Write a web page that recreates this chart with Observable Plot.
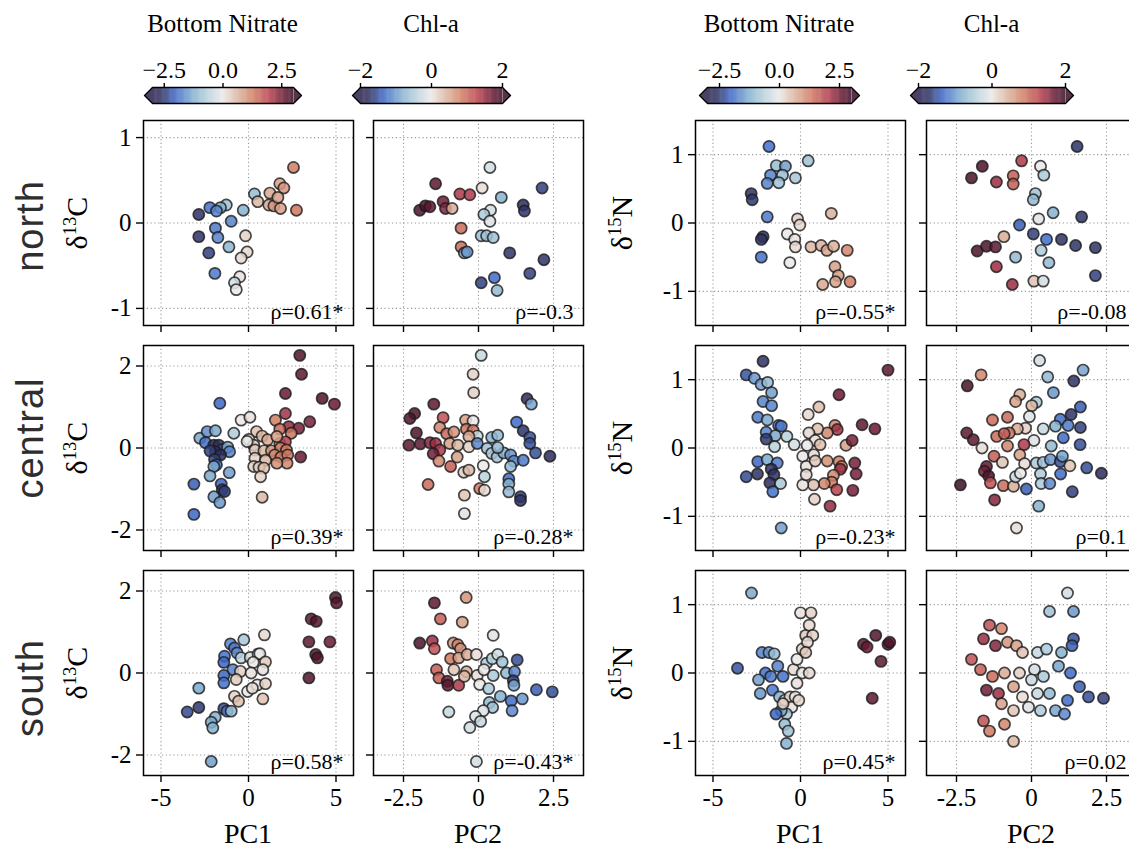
<!DOCTYPE html>
<html><head><meta charset="utf-8">
<script src="https://cdn.jsdelivr.net/npm/d3@7"></script>
<script src="https://cdn.jsdelivr.net/npm/@observablehq/plot@0.6"></script>
<style>
body{margin:0;background:#fff;}
#fig{position:relative;width:1129px;height:848px;overflow:hidden;background:#fff;font-family:"Liberation Serif",serif;color:#000;}
.abs{position:absolute;}
.rot{position:absolute;transform:translate(-50%,-50%) rotate(-90deg);white-space:nowrap;line-height:1;}
.region{font-family:"Liberation Sans",sans-serif;font-size:38px;color:#2e2e2e;letter-spacing:1px;}
.ylab{font-family:"Liberation Serif",serif;font-size:30px;}
.ylab sup{font-size:0.62em;vertical-align:0.6em;line-height:0;}
.xlab{position:absolute;transform:translateX(-50%);font-family:"Liberation Serif",serif;font-size:28px;line-height:1;white-space:nowrap;}
.cbt{position:absolute;transform:translateX(-50%);font-family:"Liberation Serif",serif;font-size:25px;line-height:1;white-space:nowrap;}
</style></head><body><div id="fig"></div>
<script>
// ---------- data ----------
const regions = ["north", "central", "south"];
const rhoLabels = [
  ["ρ=0.61*", "ρ=-0.3", "ρ=-0.55*", "ρ=-0.08"],
  ["ρ=0.39*", "ρ=-0.28*", "ρ=-0.23*", "ρ=0.1"],
  ["ρ=0.58*", "ρ=-0.43*", "ρ=0.45*", "ρ=0.02"]
];
const pc1Ticks = [-5, 0, 5];
const pc2Ticks = [-2.5, 0, 2.5];
const d13CTicksNorth = [-1, 0, 1];
const d13CTicks = [-2, 0, 2];
const d15NTicks = [-1, 0, 1];
const nitrateTicks = [-2.5, 0, 2.5];
const chlTicks = [-2, 0, 2];

// [x, y, colour value]
const north_d13C_PC1 = [[2.57,0.65,1.3],[1.79,0.46,0.9],[2.02,0.41,1.0],[1.22,0.35,0.8],[0.34,0.34,-1.0],[0.53,0.25,0.6],[1.16,0.21,0.8],[1.45,0.20,1.0],[1.68,0.30,0.9],[1.83,0.17,0.9],[2.74,0.15,1.4],[-1.27,0.21,-0.9],[-1.6,0.18,-1.2],[-2.21,0.18,-1.9],[-1.83,0.14,-1.7],[-2.84,0.10,-2.6],[-0.3,0.15,-1.2],[-0.99,0.02,-1.7],[-1.89,-0.06,-1.8],[-2.84,-0.16,-2.6],[-1.75,-0.17,-1.7],[-0.17,-0.15,0.3],[-2.27,-0.35,-2.4],[-1.12,-0.28,-1.1],[-0.08,-0.34,0.2],[-0.42,-0.41,0.2],[-1.92,-0.59,-1.8],[-0.5,-0.63,0.1],[-0.8,-0.70,-0.3],[-0.70,-0.78,0.0]];
const north_d13C_PC2 = [[0.38,0.65,-0.2],[-1.43,0.46,1.8],[0.12,0.41,0.1],[-0.62,0.34,1.4],[-0.29,0.33,1.4],[0.76,0.30,-0.8],[2.12,0.41,-1.6],[-1.96,0.15,1.9],[-1.77,0.20,1.9],[-1.62,0.19,1.8],[-1.18,0.25,1.7],[-1.1,0.17,1.6],[-0.88,0.17,0.5],[1.49,0.21,-1.8],[1.53,0.14,-1.7],[0.4,0.15,-0.2],[0.18,0.10,-0.5],[0.38,0.02,-0.1],[-0.58,-0.06,1.0],[0.09,-0.15,-0.6],[0.27,-0.15,-0.6],[0.49,-0.17,-0.6],[-0.58,-0.28,1.0],[-0.47,-0.35,-0.8],[-0.38,-0.34,-1.0],[1.04,-0.35,-1.7],[2.18,-0.43,-1.7],[1.71,-0.59,-1.6],[0.53,-0.64,-1.3],[0.09,-0.70,-1.6],[0.62,-0.79,-0.7]];
const north_d15N_PC1 = [[-1.8,1.12,-1.9],[0.44,0.91,-0.9],[-1.38,0.84,-1.0],[-0.86,0.83,-1.4],[-1.71,0.70,-1.7],[-1.03,0.70,-1.0],[-0.29,0.66,-0.8],[-1.9,0.58,-1.7],[-1.24,0.59,-0.9],[-2.82,0.43,-2.6],[-2.76,0.34,-2.5],[1.76,0.14,0.7],[-1.9,0.09,-1.8],[-0.17,0.06,0.3],[-0.04,-0.03,0.2],[-0.75,-0.16,0.0],[-0.33,-0.24,0.1],[-2.14,-0.20,-2.5],[-2.24,-0.24,-2.6],[-0.29,-0.35,0.2],[0.60,-0.35,0.6],[1.18,-0.33,0.7],[1.51,-0.40,0.8],[1.89,-0.34,0.7],[2.67,-0.40,1.2],[-2.24,-0.50,-1.9],[-0.61,-0.58,0.0],[1.97,-0.64,0.9],[2.16,-0.77,0.9],[2.0,-0.86,0.9],[1.27,-0.90,0.8],[2.83,-0.86,1.3]];
const north_d15N_PC2 = [[1.52,1.12,-1.7],[-0.33,0.91,1.4],[-1.64,0.83,1.9],[0.3,0.83,0.0],[-2.0,0.66,1.9],[-1.17,0.60,1.5],[-0.61,0.69,1.1],[-0.61,0.57,1.1],[0.41,0.70,-0.5],[0.13,0.43,-0.6],[0.06,0.34,-0.7],[0.72,0.15,-0.8],[0.24,0.06,-0.1],[1.67,0.09,-1.7],[-0.4,-0.03,-1.4],[0.06,-0.16,-1.6],[0.5,-0.24,-1.3],[1.0,-0.24,-1.7],[1.47,-0.33,-1.7],[2.13,-0.36,-1.7],[-0.92,-0.20,0.5],[-1.81,-0.41,1.9],[-1.5,-0.34,1.9],[-1.2,-0.35,1.8],[0.32,-0.40,-0.5],[-0.53,-0.50,-0.7],[0.58,-0.58,-0.7],[-1.17,-0.64,1.5],[2.13,-0.77,-1.6],[-0.64,-0.90,1.5],[0.08,-0.85,0.3],[0.39,-0.85,-0.2]];

const central_d13C_PC1 = [[2.93,2.26,2.8],[3.03,1.80,2.7],[2.11,1.33,2.6],[4.21,1.21,2.8],[4.91,1.07,2.6],[-1.64,1.09,-2.0],[2.11,0.84,2.2],[-0.42,0.68,0],[0.08,0.75,0.1],[1.54,0.68,1.3],[3.5,0.64,2.5],[2.3,0.52,2.3],[2.87,0.48,2.5],[1.79,0.46,1.5],[2.44,0.36,1.4],[0.46,0.40,0.5],[0.78,0.29,0.6],[0.02,0.21,0.1],[1.09,0.20,0.8],[0.3,0.07,0.4],[1.79,0.11,1.2],[2.11,0.15,2.0],[-0.84,0.36,-0.7],[-2.78,0.24,-1.3],[-2.36,0.40,-1.6],[-1.89,0.42,-1.3],[-2.46,0.13,-1.9],[-1.98,0.07,-2.6],[-1.7,0.07,-2.7],[-1.45,-0.03,-2.2],[-1.19,0.02,-1.3],[-1.08,-0.09,-1.7],[-1.89,-0.09,-2.6],[-2.2,-0.07,-2.4],[-1.6,-0.17,-2.7],[-1.94,-0.28,-2.4],[-1.83,-0.41,-2.0],[-1.98,-0.45,-1.3],[-1.1,-0.60,-1.4],[-2.2,-0.68,-1.3],[-3.12,-0.88,-2.1],[-1.56,-0.88,-2.0],[-1.5,-1.02,-2.5],[-1.37,-1.06,-2.4],[-1.98,-1.19,-1.4],[-1.64,-1.33,-1.5],[-3.12,-1.62,-2.0],[0.78,-1.2,0.6],[0.37,-0.05,0.4],[0.88,-0.07,0.6],[1.31,-0.07,1.0],[1.83,0.0,1.2],[2.17,-0.05,1.3],[1.5,-0.17,1.2],[1.86,-0.22,1.3],[2.24,-0.17,1.4],[2.98,-0.22,2.6],[2.2,-0.37,1.2],[1.62,-0.37,1.1],[0.37,-0.25,0.3],[0.97,-0.30,0.6],[0.3,-0.45,0.3],[0.6,-0.47,0.4],[0.88,-0.49,0.5],[0.69,-0.70,0.3],[-0.08,0.16,0.0],[1.62,0.28,0.9]];
const central_d13C_PC2 = [[0.09,2.26,-0.3],[-0.18,1.80,0.2],[-0.16,1.35,0.2],[1.62,1.20,-1.8],[1.76,1.07,-0.9],[-1.49,1.07,1.8],[-2.13,0.84,1.9],[-2.29,0.72,1.9],[-1.18,0.74,1.2],[-0.43,0.68,0.6],[-0.18,0.66,0.0],[1.27,0.63,-1.3],[-2.07,0.37,1.9],[-1.29,0.50,0.8],[-1.06,0.35,1.0],[-0.82,0.39,0.7],[-0.4,0.46,0.9],[-0.18,0.43,0.9],[-0.04,0.29,-0.3],[-0.32,0.28,0.5],[1.49,0.42,-1.7],[1.71,0.26,-1.5],[0.44,0.26,-0.8],[0.64,0.31,-0.7],[-2.32,0.07,1.8],[-1.94,0.10,1.8],[-1.62,0.13,1.6],[-1.43,0.11,1.5],[-1.29,-0.05,1.4],[-1.51,-0.14,1.7],[-0.96,0.11,0.6],[-0.69,0.07,0.4],[-0.32,0.03,0.2],[-0.04,0.11,-1.1],[0.29,-0.01,-0.6],[0.44,-0.13,-0.5],[0.62,-0.22,-0.6],[0.84,-0.12,-0.8],[1.07,-0.17,-1.0],[1.18,-0.32,-1.1],[1.49,-0.30,-1.2],[1.9,-0.12,-1.5],[2.38,-0.20,-1.8],[1.71,0.11,-1.5],[-1.32,-0.32,0.8],[-0.93,-0.45,1.1],[-0.71,-0.22,0.6],[-0.49,-0.59,0.2],[-0.32,-0.54,0.4],[0.16,-0.43,0.0],[0.2,-0.7,-0.4],[1.01,-0.75,-1.3],[1.01,-0.88,-0.8],[1.01,-1.07,-0.7],[1.4,-1.19,-1.6],[1.4,-1.28,-1.7],[-1.68,-0.89,1.0],[0.04,-0.99,0.9],[0.2,-1.03,0.1],[-0.47,-1.15,0.3],[-0.47,-1.6,-0.1],[1.07,-0.45,-0.7],[0.64,0.01,-0.7]];
const central_d15N_PC1 = [[-2.14,1.27,-2.6],[-3.1,1.07,-2.2],[-2.63,1.02,-1.5],[-2.25,0.93,-1.4],[-1.88,0.96,-1.0],[-1.65,0.81,-1.4],[-2.14,0.68,-1.7],[-1.65,0.62,-1.7],[-2.44,0.45,-1.8],[-1.9,0.41,-1.3],[-1.25,0.33,-1.9],[-1.1,0.32,-1.8],[-1.96,0.23,-1.7],[-1.44,0.18,-1.3],[-1.96,0.13,-2.5],[-0.78,0.17,-0.6],[-0.36,0.05,-0.3],[-1.48,0.02,-0.6],[-2.44,-0.2,-2.0],[-1.9,-0.17,-1.3],[-1.33,-0.22,-1.8],[-1.67,-0.31,-2.6],[-1.52,-0.39,-2.6],[-3.1,-0.42,-2.3],[-2.46,-0.38,-2.6],[-1.75,-0.51,-2.7],[-1.14,-0.52,-0.8],[-1.58,-0.64,-1.9],[-1.1,-1.17,-1.4],[0.44,0.49,0.2],[1.05,0.60,0.5],[2.2,0.78,2.6],[3.52,0.34,2.7],[4.25,0.28,2.6],[1.97,0.33,1.2],[2.1,0.27,2.2],[1.53,0.22,1.2],[0.98,0.28,0.5],[0.48,0.22,0.2],[0.84,0.11,0.1],[1.12,0.05,0.5],[2.6,0.04,0.9],[2.95,0.11,2.5],[0.38,0.04,0.0],[0.13,-0.12,0.0],[0.76,-0.10,0.2],[0.33,-0.27,0.1],[0.84,-0.19,0.4],[1.53,-0.19,1.1],[2.2,-0.2,1.3],[2.35,-0.27,1.3],[3.1,-0.22,2.5],[3.18,-0.38,2.5],[2.27,-0.31,2.2],[1.88,-0.40,1.2],[1.78,-0.50,1.3],[1.36,-0.52,1.2],[0.74,-0.54,0.5],[0.13,-0.54,0.1],[0.33,-0.39,0.2],[2.07,-0.61,2.0],[2.99,-0.62,2.5],[0.8,-0.75,0.3],[1.69,-0.85,2.3],[5.0,1.14,2.7]];
const central_d15N_PC2 = [[0.27,1.28,-0.2],[-1.68,1.07,0.8],[1.72,1.14,-0.9],[0.54,1.04,-0.7],[1.41,0.98,-1.7],[-2.14,0.91,1.9],[0.73,0.81,-1.0],[-0.39,0.78,0.5],[-0.53,0.68,0.6],[0.16,0.67,-0.5],[0.01,0.62,0.4],[1.63,0.60,-1.4],[1.32,0.49,-1.7],[-0.07,0.46,-0.1],[-0.8,0.45,1.0],[-1.3,0.41,1.0],[0.96,0.42,-1.3],[1.22,0.33,-1.2],[1.63,0.30,-1.6],[0.39,0.28,-0.3],[0.8,0.32,-0.8],[-0.2,0.29,0.2],[-0.47,0.28,0.5],[-0.74,0.22,0.9],[-1.16,0.17,1.0],[-0.91,0.21,1.1],[-2.16,0.22,1.8],[-1.94,0.12,1.8],[0.08,0.11,-0.1],[1.06,0.15,-1.3],[1.62,0.05,-1.5],[-0.25,0.05,1.4],[-0.8,0.03,0.8],[0.66,0.03,-0.7],[-1.65,0.0,0.1],[-0.39,-0.10,0.6],[-1.25,-0.12,1.1],[-0.97,-0.21,0.3],[-0.23,-0.23,0.1],[0.16,-0.22,-0.5],[0.39,-0.21,-0.6],[0.63,-0.17,-1.0],[0.96,-0.20,-1.5],[1.03,-0.12,-0.9],[1.28,-0.26,0.3],[1.84,-0.29,-1.5],[2.33,-0.37,-1.8],[-1.5,-0.27,1.8],[-1.57,-0.34,1.7],[-1.43,-0.41,1.9],[-1.37,-0.51,1.2],[-0.94,-0.55,1.0],[-0.6,-0.56,0.5],[-0.53,-0.42,-0.3],[-0.37,-0.37,0.0],[0.3,-0.38,-0.5],[0.32,-0.52,-0.5],[0.61,-0.52,-1.1],[0.97,-0.38,-1.3],[-0.17,-0.60,-1.4],[1.36,-0.64,-1.6],[-2.37,-0.54,2.0],[-1.23,-0.76,1.6],[0.24,-0.85,-0.8],[-0.5,-1.17,0.1]];

const south_d13C_PC1 = [[4.97,1.84,2.8],[5.03,1.71,2.8],[3.58,1.32,2.7],[3.87,1.26,2.8],[0.91,0.93,0.2],[-0.27,0.81,-0.8],[-1.03,0.71,-1.7],[-0.8,0.61,-1.8],[3.45,0.76,2.7],[4.65,0.76,2.6],[3.84,0.45,2.8],[3.94,0.37,2.8],[-0.65,0.49,-1.6],[-1.37,0.41,-1.9],[-0.42,0.37,-0.5],[0.1,0.38,-0.3],[0.55,0.46,-0.1],[0.65,0.47,0.0],[0.97,0.27,0.4],[-1.41,0.26,-2.0],[0.27,0.26,0.0],[-0.89,0.08,-1.7],[-0.46,0.04,0.3],[0.15,0.0,0.1],[0.82,0.08,0.1],[-1.41,-0.06,-2.0],[-0.7,-0.16,0.4],[-1.41,-0.24,-1.9],[0.51,-0.29,0.0],[0.97,-0.26,0.3],[-0.05,-0.45,0.0],[0.22,-0.37,0.1],[-0.8,-0.57,0.3],[-0.57,-0.69,0.5],[0.82,-0.63,0.5],[3.45,-0.12,2.8],[-2.84,-0.37,-1.3],[-2.84,-0.84,-2.5],[-3.5,-0.95,-2.3],[-1.41,-0.87,-2.3],[-1.22,-0.93,-1.8],[-0.99,-0.93,-1.0],[-1.9,-1.08,-1.2],[-2.13,-1.2,-1.3],[-2.04,-1.34,-1.2],[-2.13,-2.16,-1.4]];
const south_d13C_PC2 = [[-1.47,1.71,1.8],[-0.41,1.84,0.7],[-1.27,1.32,1.1],[-0.54,1.24,0.6],[0.49,0.92,-0.1],[-1.96,0.73,1.9],[-1.54,0.78,1.5],[-1.47,0.59,1.2],[-0.84,0.73,0.7],[-0.69,0.69,0.8],[-0.6,0.59,0.7],[-0.93,0.35,0.9],[-0.66,0.37,0.6],[-0.38,0.45,0.5],[-0.07,0.45,0.1],[0.27,0.24,-0.5],[0.46,0.35,-0.4],[0.64,0.45,-0.2],[0.79,0.27,-0.6],[1.29,0.32,-1.5],[-1.4,0.08,1.1],[-0.82,0.08,0.3],[-0.4,0.03,0.5],[-0.04,-0.06,0.1],[0.49,-0.06,-0.5],[0.93,0.0,-0.7],[1.2,0.03,-1.1],[1.16,-0.19,-1.6],[1.18,-0.3,-0.9],[-1.32,-0.12,1.1],[-1.04,-0.2,1.7],[-1.02,-0.30,1.8],[-0.66,-0.30,1.4],[-0.47,-0.08,0.4],[0.04,-0.28,0.0],[0.34,-0.38,-0.5],[0.73,-0.57,-0.8],[1.09,-0.68,-1.3],[1.46,-0.63,-1.0],[1.93,-0.41,-1.4],[2.46,-0.46,-1.5],[0.36,-0.72,-0.7],[0.47,-0.84,-0.6],[1.12,-0.92,-1.1],[0.16,-0.92,-0.1],[-0.99,-0.95,-0.3],[-0.1,-1.06,-0.1],[0.07,-1.18,-0.3],[-0.29,-1.33,-0.2],[-0.07,-2.16,-0.2],[0.18,0.08,0.0]];
const south_d15N_PC1 = [[-2.8,1.17,-1.3],[-3.6,0.07,-2.2],[-2.2,0.3,-1.7],[-1.8,0.3,-1.5],[-1.5,0.28,-1.0],[-2.0,0.0,-1.9],[-1.7,-0.05,-1.8],[-1.3,0.1,-1.7],[-1.0,-0.05,-1.9],[-2.3,-0.3,-1.5],[-1.6,-0.25,-1.8],[-1.2,-0.35,-1.2],[-0.9,-0.4,0.2],[-0.6,-0.35,0.3],[-0.3,-0.35,0.0],[-0.5,-0.5,0.1],[-0.8,-0.6,-0.8],[-0.9,-0.75,-1.0],[-0.7,-0.85,-0.9],[-1.1,-0.55,-1.3],[-0.8,-1.03,-1.2],[-1.0,-0.45,0.3],[-0.4,0.05,0.2],[-0.2,0.2,0.0],[0.1,0.35,0.3],[0.3,0.55,0.4],[0.0,0.88,0.1],[0.6,0.88,0.3],[0.5,0.7,0.2],[0.7,0.55,0.3],[0.4,0.45,0.2],[0.1,0.0,0.0],[-0.2,-0.15,0.1],[0.3,0.3,0.4],[3.6,0.42,2.7],[3.8,0.38,2.6],[4.3,0.55,2.8],[4.6,0.17,2.7],[5.0,0.42,2.8],[5.1,0.45,2.8],[4.1,-0.37,2.7],[-2.4,-0.1,-1.4],[-1.4,-0.6,-2.0],[-0.1,-0.4,0.2],[0.5,0.0,0.2]];
const south_d15N_PC2 = [[1.2,1.17,-0.2],[0.6,0.9,-0.6],[1.4,0.9,-1.0],[-1.4,0.7,1.2],[-1.0,0.65,0.8],[-1.6,0.5,1.5],[-0.8,0.45,0.7],[-1.2,0.4,1.6],[-0.5,0.4,0.6],[-0.3,0.3,0.3],[0.2,0.3,-0.3],[0.5,0.35,-0.5],[1.0,0.3,-0.8],[1.4,0.5,-1.5],[1.35,0.4,-1.4],[-2.0,0.2,1.2],[-1.7,0.05,1.1],[-1.3,-0.05,1.0],[-0.9,0.0,0.5],[-0.4,0.0,0.2],[0.1,0.05,-0.2],[0.4,-0.05,-0.5],[0.9,0.1,-0.9],[1.3,0.0,-1.3],[-1.5,-0.25,1.7],[-1.1,-0.3,1.5],[-0.6,-0.2,0.6],[-0.3,-0.35,0.1],[0.2,-0.3,-0.3],[0.6,-0.3,-0.7],[1.2,-0.4,-1.3],[1.9,-0.35,-1.5],[2.4,-0.37,-1.6],[-1.6,-0.7,1.2],[-1.4,-0.85,0.9],[-1.0,-0.45,0.6],[-0.6,-0.55,0.3],[-0.1,-0.5,-0.1],[0.3,-0.55,-0.5],[0.8,-0.55,-0.9],[1.1,-0.6,-1.1],[-0.6,-1.0,0.4],[-0.9,-0.75,0.8],[0.0,-0.1,-0.3],[1.6,-0.2,-1.4]];

// ---------- colour map (twilight-shifted like) ----------
const cmapPos = [0, 0.08, 0.17, 0.30, 0.40, 0.50, 0.60, 0.72, 0.84, 0.93, 1];
const cmapCol = ["#2b1e4a", "#2d3568", "#3d68c8", "#86b2cf", "#b9d2dc", "#ebe8e8", "#dcb9a4", "#d07c62", "#b53b4b", "#6a1a35", "#3a0f25"];
function cmap(t) {
  t = Math.max(0, Math.min(1, t));
  let i = 0;
  while (i < cmapPos.length - 2 && t > cmapPos[i + 1]) i++;
  const u = (t - cmapPos[i]) / (cmapPos[i + 1] - cmapPos[i]);
  return d3.interpolateRgb(cmapCol[i], cmapCol[i + 1])(u);
}
const ALPHA = 0.85;
// same colour map, pre-blended with white (for the opaque colour bars)
function cmapBlended(t) {
  const c = d3.rgb(cmap(t));
  return d3.rgb(c.r * ALPHA + 255 * (1 - ALPHA), c.g * ALPHA + 255 * (1 - ALPHA), c.b * ALPHA + 255 * (1 - ALPHA)).formatHex();
}
const nitrateDomain = [-3, 3];
const chlDomain = [-2, 2];

// ---------- layout ----------
const fig = document.getElementById("fig");
const colLeft = [143, 373, 695, 926];
const rowTop = [120, 345, 570];
const FW = 210, FH = 205;
const fmtTick = d => String(d);

const panels = [
  [north_d13C_PC1, north_d13C_PC2, north_d15N_PC1, north_d15N_PC2],
  [central_d13C_PC1, central_d13C_PC2, central_d15N_PC1, central_d15N_PC2],
  [south_d13C_PC1, south_d13C_PC2, south_d15N_PC1, south_d15N_PC2]
];

function place(node, left, top) {
  const w = document.createElement("div");
  w.className = "abs";
  w.style.left = left + "px";
  w.style.top = top + "px";
  w.appendChild(node);
  fig.appendChild(w);
}

function panel(r, c) {
  const data = panels[r][c];
  const isPC1 = c % 2 === 0;
  const isC = c < 2;
  const xDomain = isPC1 ? [-6, 6] : [-3.5, 3.5];
  const xTicks = isPC1 ? pc1Ticks : pc2Ticks;
  const yDomain = isC ? (r === 0 ? [-1.2, 1.2] : [-2.5, 2.5]) : [-1.5, 1.5];
  const yTicks = isC ? (r === 0 ? d13CTicksNorth : d13CTicks) : d15NTicks;
  const cDomain = isPC1 ? nitrateDomain : chlDomain;
  const mL = 60, mT = 10, mR = 10, mB = 50;
  const showY = isPC1, showX = r === 2;
  const p = Plot.plot({
    width: FW + mL + mR, height: FH + mT + mB,
    marginLeft: mL, marginTop: mT, marginRight: mR, marginBottom: mB,
    style: {background: "transparent", fontFamily: "Liberation Serif", fontSize: "25px", overflow: "visible", maxWidth: "none", color: "#000"},
    x: {domain: xDomain, axis: null},
    y: {domain: yDomain, axis: null},
    color: {type: "linear", domain: cDomain, interpolate: cmap, clamp: true},
    marks: [
      Plot.gridX(xTicks, {stroke: "#9a9a9a", strokeOpacity: 1, strokeWidth: 1.1, strokeDasharray: "1.2,2.6"}),
      Plot.gridY(yTicks, {stroke: "#9a9a9a", strokeOpacity: 1, strokeWidth: 1.1, strokeDasharray: "1.2,2.6"}),
      Plot.axisX(xTicks, {tickSize: 7, tickPadding: 6, strokeWidth: 1.4, fontSize: 25, label: null, tickFormat: showX ? fmtTick : () => ""}),
      Plot.axisY(yTicks, {tickSize: 7, tickPadding: 5, strokeWidth: 1.4, fontSize: 25, label: null, tickFormat: showY ? fmtTick : () => ""}),
      Plot.dot(data, {x: d => d[0], y: d => d[1], fill: d => d[2], r: 5.6, stroke: "#1c1c1c", strokeWidth: 1.7, fillOpacity: ALPHA, strokeOpacity: 0.8}),
      Plot.frame({stroke: "#000", strokeWidth: 1.5}),
      Plot.text([rhoLabels[r][c]], {text: d => d, frameAnchor: "bottom-right", textAnchor: "end", lineAnchor: "bottom", dx: -10, dy: -7, fontSize: 22})
    ]
  });
  place(p, colLeft[c] - mL, rowTop[r] - mT);
}

for (let r = 0; r < 3; r++) for (let c = 0; c < 4; c++) panel(r, c);

// ---------- colour bars ----------
function colorbar(domain, ticks, fmt, title, bodyLeft, bodyRight) {
  const barTop = 87, barH = 16, ext = 8;
  const mL = ext + 3, mR = ext + 3, mT = 40, mB = 4;
  const N = 160;
  const step = (domain[1] - domain[0]) / N;
  const vals = d3.range(N).map(i => domain[0] + (i + 0.5) * step);
  const extU = ext * (domain[1] - domain[0]) / (bodyRight - bodyLeft);
  const d0 = domain[0], d1 = domain[1];
  const triL = [[d0, 0], [d0 - extU, 0.5], [d0, 1]];
  const triR = [[d1, 0], [d1 + extU, 0.5], [d1, 1]];
  const outline = [[d0, 0], [d1, 0], [d1 + extU, 0.5], [d1, 1], [d0, 1], [d0 - extU, 0.5], [d0, 0]];
  const p = Plot.plot({
    width: bodyRight - bodyLeft + mL + mR, height: barH + mT + mB,
    marginLeft: mL, marginRight: mR, marginTop: mT, marginBottom: mB,
    style: {background: "transparent", fontFamily: "Liberation Serif", fontSize: "24px", overflow: "visible", maxWidth: "none", color: "#000"},
    x: {domain, axis: null}, y: {domain: [0, 1], axis: null},
    color: {type: "linear", domain, interpolate: cmapBlended, clamp: true},
    marks: [
      Plot.rect(vals, {x1: d => d - step / 2 - step * 0.3, x2: d => d + step / 2 + step * 0.3, y1: () => 0, y2: () => 1, fill: d => d}),
      Plot.line(triL, {x: d => d[0], y: d => d[1], fill: cmapBlended(0), stroke: "none"}),
      Plot.line(triR, {x: d => d[0], y: d => d[1], fill: cmapBlended(1), stroke: "none"}),
      Plot.line(outline, {x: d => d[0], y: d => d[1], stroke: "#000", strokeWidth: 1.3}),
      Plot.axisX(ticks, {anchor: "top", tickSize: 5, tickPadding: 5, strokeWidth: 1.4, fontSize: 24, label: null, tickFormat: fmt})
    ]
  });
  place(p, bodyLeft - mL, barTop - mT);
  const t = document.createElement("div");
  t.className = "cbt";
  t.textContent = title;
  t.style.left = ((bodyLeft + bodyRight) / 2) + "px";
  t.style.top = "11px";
  fig.appendChild(t);
}
colorbar(nitrateDomain, nitrateTicks, d3.format(".1f"), "Bottom Nitrate", 152, 293);
colorbar(chlDomain, chlTicks, d3.format("d"), "Chl-a", 360, 502);
colorbar(nitrateDomain, nitrateTicks, d3.format(".1f"), "Bottom Nitrate", 707, 851);
colorbar(chlDomain, chlTicks, d3.format("d"), "Chl-a", 918, 1065);

// ---------- text labels ----------
const regionY = [226, 438, 688];
regions.forEach((name, r) => {
  const d = document.createElement("div");
  d.className = "rot region";
  d.textContent = name;
  d.style.left = "30px";
  d.style.top = regionY[r] + "px";
  fig.appendChild(d);
});
const rowCenters = rowTop.map(t => t + FH / 2);
rowCenters.forEach(cy => {
  [[77, "13", "C"], [622, "15", "N"]].forEach(([cx, iso, el]) => {
    const d = document.createElement("div");
    d.className = "rot ylab";
    d.innerHTML = "δ<sup>" + iso + "</sup>" + el;
    d.style.left = cx + "px";
    d.style.top = cy + "px";
    fig.appendChild(d);
  });
});
["PC1", "PC2", "PC1", "PC2"].forEach((lab, c) => {
  const d = document.createElement("div");
  d.className = "xlab";
  d.textContent = lab;
  d.style.left = (colLeft[c] + FW / 2) + "px";
  d.style.top = "820px";
  fig.appendChild(d);
});
</script></body></html>
